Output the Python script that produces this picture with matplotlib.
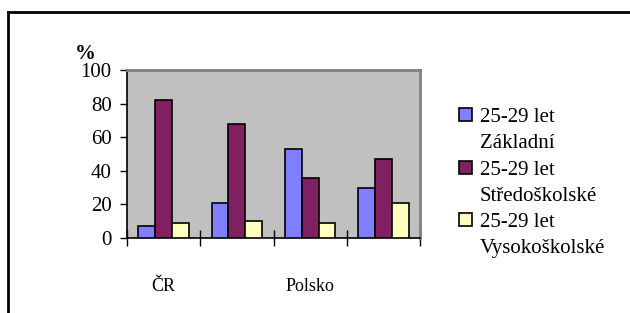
import numpy as np
import matplotlib
matplotlib.use("Agg")
import matplotlib.pyplot as plt
from matplotlib.lines import Line2D
from matplotlib.patches import Rectangle

plt.rcParams['font.family'] = ['Liberation Serif', 'DejaVu Serif']

categories = ['ČR', '', 'Polsko', '']
series = ['25-29 let\nZákladní', '25-29 let\nStředoškolské', '25-29 let\nVysokoškolské']
zakladni = [7, 21, 53, 30]
stredoskolske = [82, 68, 36, 47]
vysokoskolske = [9, 10, 9, 21]
values = [zakladni, stredoskolske, vysokoskolske]
colors = ['#8080FF', '#802060', '#FFFFC0']
y_ticks = [0, 20, 40, 60, 80, 100]

fig = plt.figure(figsize=(6.3, 3.13), dpi=100)
ax = fig.add_axes([127/630, 1 - 238/313, 293/630, 168/313])
ax.set_facecolor('#C0C0C0')

x = np.arange(len(categories))
w = 0.23
bars = []
for i, (vals, c) in enumerate(zip(values, colors)):
    b = ax.bar(x + (i - 1) * w, vals, w, color=c, edgecolor='black', linewidth=1.2, zorder=3)
    bars.append(b)

ax.set_xlim(-0.5, len(categories) - 0.5)
ax.set_ylim(0, 100)
ax.set_yticks(y_ticks)
ax.set_yticklabels([str(t) for t in y_ticks], fontsize=15)
ax.tick_params(axis='y', direction='out', length=5, width=1, pad=6)

ax.set_xticks(np.arange(len(categories) + 1) - 0.5)
ax.set_xticklabels([])
ax.tick_params(axis='x', which='major', direction='inout', length=12, width=1)
ax.set_xticks(x, labels=categories, minor=True)
ax.tick_params(axis='x', which='minor', length=0, pad=29, labelsize=13)

for s in ['left', 'bottom']:
    ax.spines[s].set_color('black')
    ax.spines[s].set_linewidth(1.2)
for s in ['top', 'right']:
    ax.spines[s].set_color('#808080')
    ax.spines[s].set_linewidth(2)

fig.text(85/630, 1 - 54/313, '%', fontsize=15, fontweight='bold', ha='center', va='center')

# legend: each label on two rows, handle next to the first row
handles, labels = [], []
for b, name in zip(bars, series):
    first, second = name.split('\n')
    handles += [b, Rectangle((0, 0), 1, 1, visible=False)]
    labels += [first, second]
fig.legend(handles, labels, loc='upper left', bbox_to_anchor=(459/630, 1 - 108/313),
           frameon=False, fontsize=15, borderpad=0, borderaxespad=0,
           handlelength=0.6, handleheight=0.6, handletextpad=0.4, labelspacing=0.35)

fig.add_artist(Line2D([8/630, 8/630], [0, 1 - 12/313], color='black', lw=2, transform=fig.transFigure))
fig.add_artist(Line2D([8/630, 1], [1 - 12/313, 1 - 12/313], color='black', lw=2, transform=fig.transFigure))

fig.savefig('out.png', dpi=100)
